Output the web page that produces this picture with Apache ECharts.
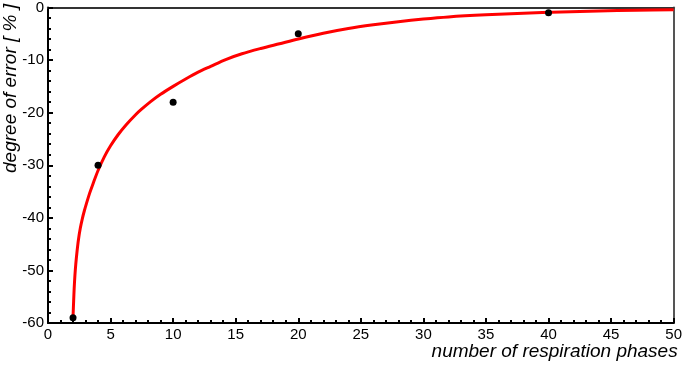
<!DOCTYPE html>
<html>
<head>
<meta charset="utf-8">
<script src="https://cdn.jsdelivr.net/npm/echarts@6/dist/echarts.min.js"></script>
<style>html,body{margin:0;padding:0;background:#fff}#c{width:685px;height:366px}</style>
</head>
<body>
<div id="c"></div>
<script>
var measuredX = [2, 4, 10, 20, 40];
var measuredY = [-59, -30, -18, -5, -1];
var fitX = [2, 2.05, 2.09, 2.15, 2.22, 2.32, 2.43, 2.58, 2.75, 2.9, 3.07, 3.33, 3.6, 4, 4.5, 5, 5.6, 6.25, 7, 7.5, 8.2, 9, 10, 11, 12, 13, 14.2, 15.5, 17, 18.5, 20, 22, 24, 26, 28, 30, 32, 35, 38, 41, 44, 47, 50];
var fitY = [-58.8, -55.8, -53.5, -51.0, -48.8, -46.4, -44.2, -42.0, -40.1, -38.7, -37.3, -35.3, -33.5, -31.0, -28.4, -26.3, -24.2, -22.3, -20.4, -19.3, -17.9, -16.5, -15.0, -13.6, -12.3, -11.2, -9.9, -8.8, -7.8, -6.9, -6.0, -4.9, -4.0, -3.3, -2.7, -2.2, -1.8, -1.4, -1.1, -0.85, -0.65, -0.52, -0.45];
var xTicks = [0, 5, 10, 15, 20, 25, 30, 35, 40, 45, 50];
var yTicks = [0, -10, -20, -30, -40, -50, -60];
var xName = 'number of respiration phases';
var yName = 'degree of error [ % ]';

function zip(a, b) { return a.map(function (v, i) { return [v, b[i]]; }); }

var font = 'Liberation Sans, Arial, sans-serif';
var chart = echarts.init(document.getElementById('c'), null, { renderer: 'canvas' });
chart.setOption({
  animation: false,
  grid: { left: 48, right: 7, top: 5, bottom: 43 },
  xAxis: [{
    type: 'value', min: xTicks[0], max: xTicks[xTicks.length - 1], interval: 5,
    axisLine: { onZero: false, lineStyle: { color: '#000', width: 2 } },
    axisTick: { inside: true, length: 5, lineStyle: { color: '#000', width: 2 } },
    minorTick: { show: true, splitNumber: 5, length: 3, lineStyle: { color: '#000', width: 2 } },
    splitLine: { show: false },
    axisLabel: { color: '#000', fontFamily: font, fontSize: 15, margin: 4 },
    name: xName, nameLocation: 'end',
    nameTextStyle: { fontFamily: font, fontSize: 19, fontStyle: 'italic', color: '#000', align: 'right', verticalAlign: 'top', padding: [19, 0, 0, 0] },
    nameGap: 4
  }, {
    type: 'value', position: 'top', min: 0, max: 50,
    axisLine: { show: true, onZero: false, lineStyle: { color: '#333', width: 2 } },
    axisTick: { show: false }, axisLabel: { show: false }, splitLine: { show: false }
  }],
  yAxis: [{
    type: 'value', min: yTicks[yTicks.length - 1], max: yTicks[0], interval: 10,
    axisLine: { show: true, onZero: false, lineStyle: { color: '#000', width: 2 } },
    axisTick: { show: true, inside: true, length: 5, lineStyle: { color: '#000', width: 2 } },
    minorTick: { show: true, splitNumber: 5, length: 3, lineStyle: { color: '#000', width: 2 } },
    splitLine: { show: false },
    axisLabel: { color: '#000', fontFamily: font, fontSize: 15, margin: 4 }
  }, {
    type: 'value', position: 'right', min: -60, max: 0,
    axisLine: { show: true, onZero: false, lineStyle: { color: '#555', width: 2 } },
    axisTick: { show: false }, axisLabel: { show: false }, splitLine: { show: false }
  }],
  graphic: [{
    type: 'text', x: 11, y: 4, rotation: Math.PI / 2,
    style: { text: yName, fontFamily: font, fontSize: 19, fontStyle: 'italic', fill: '#000', align: 'right', verticalAlign: 'middle' }
  }],
  series: [{
    type: 'line', data: zip(fitX, fitY), smooth: 0.3, showSymbol: false,
    lineStyle: { color: '#ff0000', width: 3 }, z: 2
  }, {
    type: 'scatter', data: zip(measuredX, measuredY), symbolSize: 7,
    itemStyle: { color: '#000', opacity: 1 }, z: 3
  }]
});
</script>
</body>
</html>
